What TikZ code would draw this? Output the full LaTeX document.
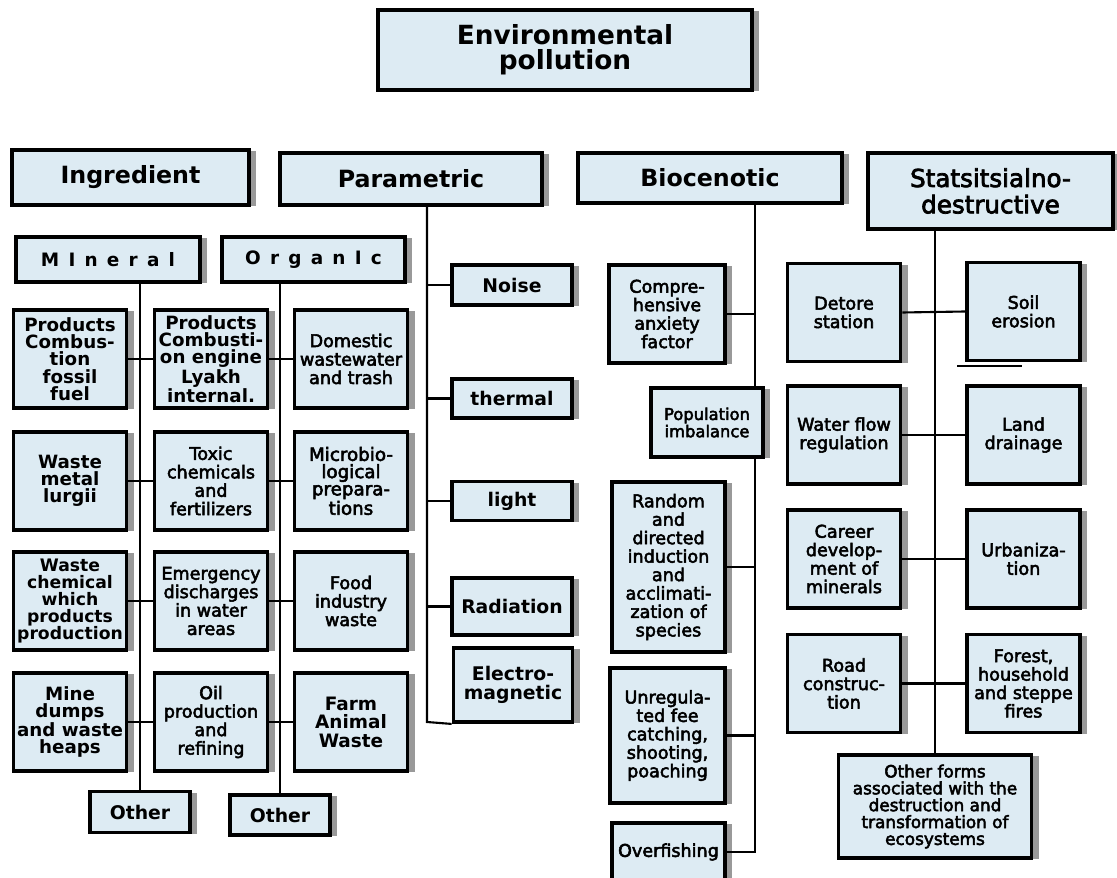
\documentclass[tikz,border=0pt]{standalone}
\usepackage{fontspec}
\setmainfont{DejaVu Sans}
\newfontfamily\semibf[FakeBold=3]{DejaVu Sans}
\usetikzlibrary{shadows}
\definecolor{boxfill}{RGB}{221,235,243}
\tikzset{
  box/.style={draw, line width=2.2pt, fill=boxfill, align=center, inner sep=1pt,
    drop shadow={shadow xshift=4pt, shadow yshift=-0.8pt, fill=black!40, opacity=1}},
  head/.style={box, font=\bfseries\fontsize{13.5}{15}\selectfont},
  item/.style={box, minimum width=2.26cm, minimum height=1.96cm,
    font=\semibf\fontsize{10}{10.5}\selectfont},
  heavy/.style={font=\bfseries\fontsize{10.4}{9.8}\selectfont},
  kind/.style={box, minimum width=2.4cm, font=\bfseries\fontsize{10.7}{11}\selectfont},
  link/.style={line width=1.2pt},
}
\begin{document}
\begin{tikzpicture}[x=0.02cm, y=-0.02cm]
  \useasboundingbox (0,0) rectangle (1117,878);
  % main heads
  \node[box, minimum width=7.48cm, minimum height=1.6cm,
    font=\bfseries\fontsize{15}{14}\selectfont] (env) at (565,50) {Environmental\\pollution};
  \node[head, minimum width=4.74cm, minimum height=1.1cm] (ingr) at (130.5,177.5) {Ingredient};
  \node[head, minimum width=5.24cm, minimum height=1.04cm] (param) at (411,179) {Parametric};
  \node[head, minimum width=5.28cm, minimum height=1cm] (bioc) at (710,178) {Biocenotic};
  \node[head, minimum width=4.9cm, minimum height=1.52cm,
    font=\semibf\fontsize{14}{15}\selectfont] (stat) at (990.5,191) {Statsitsialno-\\destructive};
  % ingredient
  \node[box, minimum width=3.68cm, minimum height=.9cm,
    font=\bfseries\fontsize{10.5}{11}\selectfont\addfontfeature{LetterSpace=50}] (miner) at (108,259.5) {MIneral};
  \node[box, minimum width=3.66cm, minimum height=.9cm,
    font=\bfseries\fontsize{10.5}{11}\selectfont\addfontfeature{LetterSpace=50}] (organ) at (313.5,259.5) {OrganIc};
  \node[item, heavy] (fossil) at (70,359) {Products\\Combus-\\tion\\fossil\\fuel};
  \node[item, heavy] (engine) at (211,359) {Products\\Combusti-\\on engine\\Lyakh\\internal.};
  \node[item] (domestic) at (351,359) {Domestic\\wastewater\\and trash};
  \node[item, heavy] (metal) at (70,481) {Waste\\metal\\lurgii};
  \node[item] (toxic) at (211,481) {Toxic\\chemicals\\and\\fertilizers};
  \node[item, font=\semibf\fontsize{10.4}{9.8}\selectfont] (microbio) at (351,481) {Microbio-\\logical\\prepara-\\tions};
  \node[item, font=\bfseries\fontsize{9.8}{9.8}\selectfont] (chemical) at (70,601) {Waste\\chemical\\which\\products\\production};
  \node[item] (emergency) at (211,601) {Emergency\\discharges\\in water\\areas};
  \node[item] (food) at (351,601) {Food\\industry\\waste};
  \node[item, heavy] (mine) at (70,722) {Mine\\dumps\\and waste\\heaps};
  \node[item] (oil) at (211,722) {Oil\\production\\and\\refining};
  \node[item, font=\bfseries\fontsize{10.5}{10.5}\selectfont] (farm) at (351,722) {Farm\\Animal\\Waste};
  \node[kind, minimum width=2cm, minimum height=.82cm] (othermin) at (140,812) {Other};
  \node[kind, minimum width=2cm, minimum height=.8cm] (otherorg) at (280,815) {Other};
  % parametric
  \node[kind, minimum height=.8cm] (noise) at (512,285) {Noise};
  \node[kind, minimum height=.78cm] (thermal) at (512,398.5) {thermal};
  \node[kind, minimum height=.78cm] (light) at (512,501) {light};
  \node[kind, minimum height=1.14cm] (radiation) at (512,606.5) {Radiation};
  \node[kind, minimum width=2.38cm, minimum height=1.48cm] (emag) at (513,685) {Electro-\\magnetic};
  % biocenotic
  \node[item, minimum width=2.32cm] (compre) at (667,314) {Compre-\\hensive\\anxiety\\factor};
  \node[item, minimum width=2.24cm, minimum height=1.38cm,
    font=\semibf\fontsize{9.3}{9.8}\selectfont] (popul) at (707,422.5) {Population\\imbalance};
  \node[item, minimum height=3.4cm] (random) at (668.5,567) {Random\\and\\directed\\induction\\and\\acclimati-\\zation of\\species};
  \node[item, minimum width=2.3cm, minimum height=2.7cm] (unreg) at (667.5,735.5) {Unregula-\\ted fee\\catching,\\shooting,\\poaching};
  \node[item, minimum height=1.16cm] (overfish) at (668.5,852) {Overfishing};
  % statsitsialno-destructive
  \node[item] (detore) at (844,312.5) {Detore\\station};
  \node[item] (soil) at (1023.5,311.5) {Soil\\erosion};
  \node[item] (waterflow) at (844,435) {Water flow\\regulation};
  \node[item] (drainage) at (1023.5,435) {Land\\drainage};
  \node[item] (career) at (844,559) {Career\\develop-\\ment of\\minerals};
  \node[item] (urban) at (1023.5,559) {Urbaniza-\\tion};
  \node[item] (road) at (844,683.5) {Road\\construc-\\tion};
  \node[item] (forest) at (1023.5,683.5) {Forest,\\household\\and steppe\\fires};
  \node[item, minimum width=3.86cm, minimum height=2.06cm,
    font=\semibf\fontsize{9.6}{9.6}\selectfont] (otherforms) at (935,806.5) {Other forms\\associated with the\\destruction and\\transformation of\\ecosystems};
  \coordinate (pbus) at (427,722);
  \coordinate (bbus) at (755,852);
  \begin{scope}[link]
    \draw (othermin.north |- miner.south) -- (othermin.north);
    \draw (otherorg.north |- organ.south) -- (otherorg.north);
    \draw (fossil.east) -- (engine.west);
    \draw (engine.east) -- (domestic.west);
    \draw (metal.east) -- (toxic.west);
    \draw (toxic.east) -- (microbio.west);
    \draw (chemical.east) -- (emergency.west);
    \draw (emergency.east) -- (food.west);
    \draw (mine.east) -- (oil.west);
    \draw (oil.east) -- (farm.west);
    \draw (param.south -| pbus) -- (pbus) -- (emag.south west);
    \draw (noise.west) -- (noise.west -| pbus);
    \draw (thermal.west) -- (thermal.west -| pbus);
    \draw (light.west) -- (light.west -| pbus);
    \draw (radiation.west) -- (radiation.west -| pbus);
    \draw (bioc.south -| bbus) -- (popul.north -| bbus);
    \draw (popul.south -| bbus) -- (bbus) -- (overfish.east);
    \draw (compre.east) -- (compre.east -| bbus);
    \draw (random.east) -- (random.east -| bbus);
    \draw (unreg.east) -- (unreg.east -| bbus);
    \draw (stat.south -| otherforms.north) -- (otherforms.north);
    \draw (detore.east) -- (soil.west);
    \draw (waterflow.east) -- (drainage.west);
    \draw (career.east) -- (urban.west);
    \draw (road.east) -- (forest.west);
    \draw (957,366) -- (1022,366);
  \end{scope}
\end{tikzpicture}
\end{document}
